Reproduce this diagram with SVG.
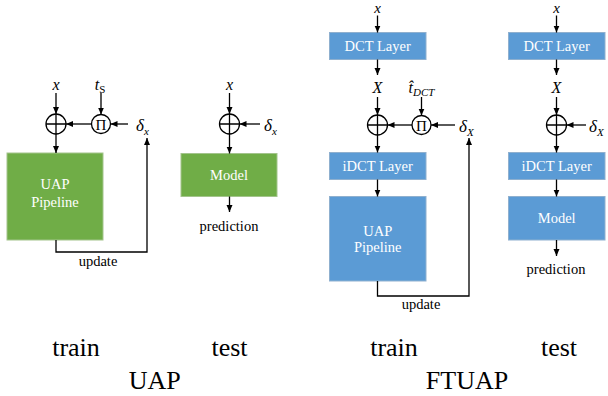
<svg xmlns="http://www.w3.org/2000/svg" width="608" height="396" viewBox="0 0 608 396">
<style>
text{font-family:"Liberation Serif","Times New Roman",serif;fill:#000}
.m{font-family:"Liberation Serif","Times New Roman",serif;font-style:italic;font-size:16px;text-anchor:middle}
.d{font-family:"Liberation Serif","Times New Roman",serif;font-style:italic;font-size:17px}
.sub{font-size:11px}
.lbl{font-family:"Liberation Serif","Times New Roman",serif;font-size:14.5px;text-anchor:middle}
.box{font-family:"Liberation Serif","Times New Roman",serif;font-size:14.5px;text-anchor:middle;fill:#fff}
.big{font-family:"Liberation Serif","Times New Roman",serif;font-size:26px;text-anchor:middle}
.pi{font-family:"Liberation Serif","Times New Roman",serif;font-size:15px;text-anchor:middle}
.g{fill:#70AD47;stroke:#a3c48c;stroke-width:1}
.b{fill:#5B9BD5;stroke:#8fb0cf;stroke-width:1}
.ln{stroke:#000;stroke-width:1.3;fill:none}
.c{fill:#fff;stroke:#000;stroke-width:1.3}
</style>
<defs>
<marker id="ah" markerUnits="userSpaceOnUse" markerWidth="8" markerHeight="8" viewBox="0 0 8 8" refX="7" refY="4" orient="auto">
<path d="M0,1 L7,4 L0,7 Z" fill="#000"/>
</marker>
</defs>

<!-- UAP train -->
<g id="uap-train-plus">
<circle class="c" cx="56" cy="124" r="10"/>
<path class="ln" d="M46,124 H66 M56,114 V134"/>
</g>
<g id="uap-train-pi">
<circle class="c" cx="101" cy="124" r="9.5"/>
<text class="pi" x="101" y="129.5">Π</text>
</g>
<g id="uap-train-pipeline">
<rect class="g" x="7" y="153" width="96" height="87"/>
<text class="box" x="55" y="189">UAP</text>
<text class="box" x="55" y="207">Pipeline</text>
</g>
<g id="uap-train-labels">
<text class="m" x="56" y="90">x</text>
<text class="m" x="100" y="90">t<tspan class="sub" style="font-style:normal" dy="3">S</tspan></text>
<text class="d" x="136" y="131">δ<tspan class="sub" dy="4">x</tspan></text>
<text class="lbl" x="98" y="265.5">update</text>
</g>

<!-- UAP test -->
<g id="uap-test-plus">
<circle class="c" cx="229.5" cy="124" r="10"/>
<path class="ln" d="M219.5,124 H239.5 M229.5,114 V134"/>
</g>
<g id="uap-test-model">
<rect class="g" x="181" y="153.5" width="96" height="43"/>
<text class="box" x="229" y="180">Model</text>
</g>
<g id="uap-test-labels">
<text class="m" x="229.5" y="90">x</text>
<text class="d" x="264" y="131">δ<tspan class="sub" dy="4">x</tspan></text>
<text class="lbl" x="229" y="230.5">prediction</text>
</g>

<!-- FTUAP train -->
<g id="ft-train-dct">
<rect class="b" x="329.5" y="32.5" width="96.5" height="27"/>
<text class="box" x="377.7" y="51">DCT Layer</text>
</g>
<g id="ft-train-plus">
<circle class="c" cx="377.5" cy="125" r="10"/>
<path class="ln" d="M367.5,125 H387.5 M377.5,115 V135"/>
</g>
<g id="ft-train-pi">
<circle class="c" cx="421.5" cy="125" r="9.5"/>
<text class="pi" x="421.5" y="130.5">Π</text>
</g>
<g id="ft-train-idct">
<rect class="b" x="329.5" y="152.5" width="96.5" height="27"/>
<text class="box" x="377.7" y="171">iDCT Layer</text>
</g>
<g id="ft-train-pipeline">
<rect class="b" x="329.5" y="196.5" width="96.5" height="84.5"/>
<text class="box" x="377.7" y="236">UAP</text>
<text class="box" x="377.7" y="252">Pipeline</text>
</g>
<g id="ft-train-labels">
<text class="m" x="377.5" y="13" style="font-size:15px">x</text>
<text class="m" x="377.5" y="93">X</text>
<text class="m" x="421.5" y="93">t&#x302;<tspan class="sub" dy="3">DCT</tspan></text>
<text class="d" x="459" y="132">δ<tspan class="sub" dy="4">X</tspan></text>
<text class="lbl" x="421" y="309">update</text>
</g>

<!-- FTUAP test -->
<g id="ft-test-dct">
<rect class="b" x="508.5" y="32.5" width="96.5" height="27"/>
<text class="box" x="556.7" y="51">DCT Layer</text>
</g>
<g id="ft-test-plus">
<circle class="c" cx="556.5" cy="125" r="10"/>
<path class="ln" d="M546.5,125 H566.5 M556.5,115 V135"/>
</g>
<g id="ft-test-idct">
<rect class="b" x="508.5" y="152.5" width="96.5" height="27"/>
<text class="box" x="556.7" y="171">iDCT Layer</text>
</g>
<g id="ft-test-model">
<rect class="b" x="508.5" y="196.5" width="96.5" height="43.5"/>
<text class="box" x="556.7" y="223">Model</text>
</g>
<g id="ft-test-labels">
<text class="m" x="556.5" y="13" style="font-size:15px">x</text>
<text class="m" x="556.5" y="93">X</text>
<text class="d" x="589" y="132">δ<tspan class="sub" dy="4">X</tspan></text>
<text class="lbl" x="556" y="274">prediction</text>
</g>

<!-- connectors -->
<g id="connectors" class="ln" marker-end="url(#ah)">
<path d="M56,93 V114"/>
<path d="M101,93 V114.5"/>
<path d="M128,124 H110.5"/>
<path d="M91.5,124 H66"/>
<path d="M56,134 V153"/>
<path d="M56,240 V252 H147 V138"/>

<path d="M229.5,93 V114"/>
<path d="M260,124 H239.5"/>
<path d="M229.5,134 V153.5"/>
<path d="M229.5,196.5 V212"/>

<path d="M377.5,15.5 V32.5"/>
<path d="M377.5,59.5 V75"/>
<path d="M377.5,97 V115"/>
<path d="M421.5,97 V115.5"/>
<path d="M455,125 H431"/>
<path d="M412,125 H387.5"/>
<path d="M377.5,135 V152.5"/>
<path d="M377.5,179.5 V196.5"/>
<path d="M377.5,281 V296 H469 V138"/>

<path d="M556.5,15.5 V32.5"/>
<path d="M556.5,59.5 V75"/>
<path d="M556.5,97 V115"/>
<path d="M586,125 H566.5"/>
<path d="M556.5,135 V152.5"/>
<path d="M556.5,179.5 V196.5"/>
<path d="M556.5,240 V256"/>
</g>

<g id="captions">
<text class="big" x="76" y="356">train</text>
<text class="big" x="229.5" y="356">test</text>
<text class="big" x="154.7" y="389">UAP</text>
<text class="big" x="394" y="356">train</text>
<text class="big" x="559" y="356">test</text>
<text class="big" x="467" y="389">FTUAP</text>
</g>
</svg>
